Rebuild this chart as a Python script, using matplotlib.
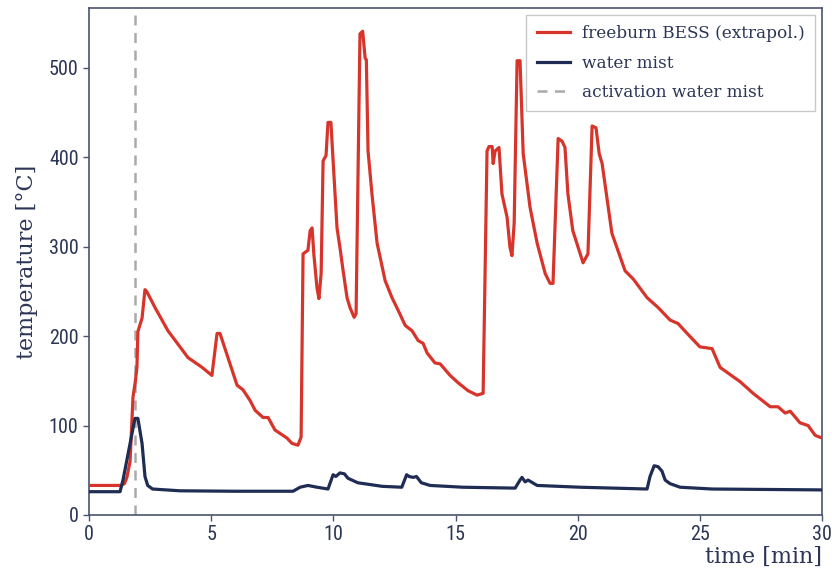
import numpy as np
import matplotlib.pyplot as plt

# freeburn BESS (extrapolated) temperature curve
t_free = [0, 1.3, 1.45, 1.55, 1.68, 1.8, 1.9, 1.96, 2.0, 2.1, 2.17, 2.29, 2.36, 2.7, 3.23, 4.05, 4.63, 5.03,
          5.24, 5.36, 6.06, 6.3, 6.59, 6.8, 7.12, 7.33, 7.61, 8.1, 8.31, 8.55, 8.68, 8.76, 8.96, 9.05, 9.13,
          9.2, 9.33, 9.41, 9.5, 9.58, 9.7, 9.78, 9.9, 9.99, 10.15, 10.27, 10.4, 10.56, 10.68, 10.85, 10.93,
          11.09, 11.2, 11.3, 11.35, 11.42, 11.58, 11.79, 12.12, 12.4, 12.65, 12.94, 13.22, 13.47, 13.67, 13.84,
          14.16, 14.37, 14.78, 15.1, 15.51, 15.88, 16.13, 16.29, 16.37, 16.5, 16.54, 16.62, 16.78, 16.9,
          17.11, 17.23, 17.31, 17.4, 17.52, 17.64, 17.77, 18.05, 18.34, 18.67, 18.87, 18.99, 19.2, 19.36,
          19.48, 19.6, 19.8, 20.22, 20.42, 20.59, 20.75, 20.88, 21.0, 21.4, 21.94, 22.27, 22.84, 23.29,
          23.78, 24.11, 24.48, 25.0, 25.5, 25.83, 26.65, 27.18, 27.88, 28.2, 28.49, 28.7, 29.1, 29.43,
          29.72, 30]
T_free = [33, 33, 35, 42, 60, 132, 150, 165, 205, 214, 220, 252, 250, 232, 206, 176, 165, 156,
          203, 203, 145, 140, 128, 117, 109, 109, 95, 86, 80, 78, 87, 292, 296, 318, 321,
          292, 254, 242, 270, 396, 402, 439, 439, 396, 321, 299, 273, 243, 232, 221, 225,
          538, 541, 511, 509, 407, 359, 304, 262, 243, 229, 212, 206, 195, 192, 181,
          170, 169, 156, 148, 139, 134, 136, 407, 412, 412, 393, 407, 411, 359,
          333, 299, 290, 326, 508, 508, 404, 344, 304, 270, 259, 259, 421, 418,
          411, 359, 318, 282, 292, 435, 433, 404, 393, 315, 273, 264, 243, 232,
          218, 214, 203, 188, 186, 165, 149, 136, 121, 121, 114, 116, 103, 100,
          89, 86]

# water mist temperature curve
t_mist = [0, 1.27, 1.39, 1.88, 2.0, 2.17, 2.29, 2.4, 2.6, 3.72, 6.0, 8.35, 8.64, 8.96, 9.33, 9.78, 9.99,
          10.1, 10.27, 10.45, 10.6, 11.0, 12.0, 12.8, 13.0, 13.1, 13.27, 13.4, 13.6, 13.96, 15.3, 17.44,
          17.64, 17.72, 17.85, 17.97, 18.34, 20.1, 22.84, 22.96, 23.13, 23.29, 23.45, 23.58, 23.78, 24.19,
          25.5, 30]
T_mist = [26, 26, 39, 108, 108, 80, 43, 33, 29, 27, 26.5, 26.5, 31, 33, 31, 29, 45,
          43, 47, 46, 41, 36, 32, 31, 45, 43, 42, 43, 36, 33, 31, 30,
          39, 42, 37, 39, 33, 31, 29, 43, 55, 54, 49, 39, 35, 31,
          29, 28]

t_activation = 1.9

red = '#d7352b'
navy = '#1f2d54'
ink = '#2b3555'

fig = plt.figure(figsize=(8.32, 5.69), dpi=100)
ax = fig.add_axes([0.107, 0.095, 0.881, 0.891])

ax.plot(t_free, T_free, color=red, lw=2.3, label='freeburn BESS (extrapol.)', zorder=3)
ax.plot(t_mist, T_mist, color=navy, lw=2.3, label='water mist', zorder=3)
ax.axvline(t_activation, color='#aaaaaa', lw=1.8, ls=(0, (4, 3)), label='activation water mist', zorder=2)

ax.set_xlim(0, 30)
ax.set_ylim(0, 567)
ax.set_xticks([0, 5, 10, 15, 20, 25, 30])
ax.set_yticks([0, 100, 200, 300, 400, 500])

for s in ax.spines.values():
    s.set_color('#4a5470')
    s.set_linewidth(1.2)
ax.tick_params(direction='out', length=4, width=1, color='#4a5470', labelcolor=ink, labelsize=14.5)
for lbl in ax.get_xticklabels() + ax.get_yticklabels():
    lbl.set_family(['Roboto Condensed', 'Liberation Sans Narrow', 'Roboto', 'DejaVu Sans'])

ax.set_xlabel('time [min]', loc='right', family='DejaVu Serif', fontsize=16, color=ink, labelpad=1)
ax.set_ylabel('temperature [°C]', family='DejaVu Serif', fontsize=16, color=ink, labelpad=8)

leg = ax.legend(loc='upper right', fancybox=False, framealpha=1, edgecolor='#c8c8c8',
                prop={'family': 'DejaVu Serif', 'size': 12.2}, handlelength=2.0, handletextpad=0.7,
                labelspacing=0.75, borderpad=0.6, borderaxespad=0.4)
for txt in leg.get_texts():
    txt.set_color(ink)

fig.savefig('out.png', dpi=100)
